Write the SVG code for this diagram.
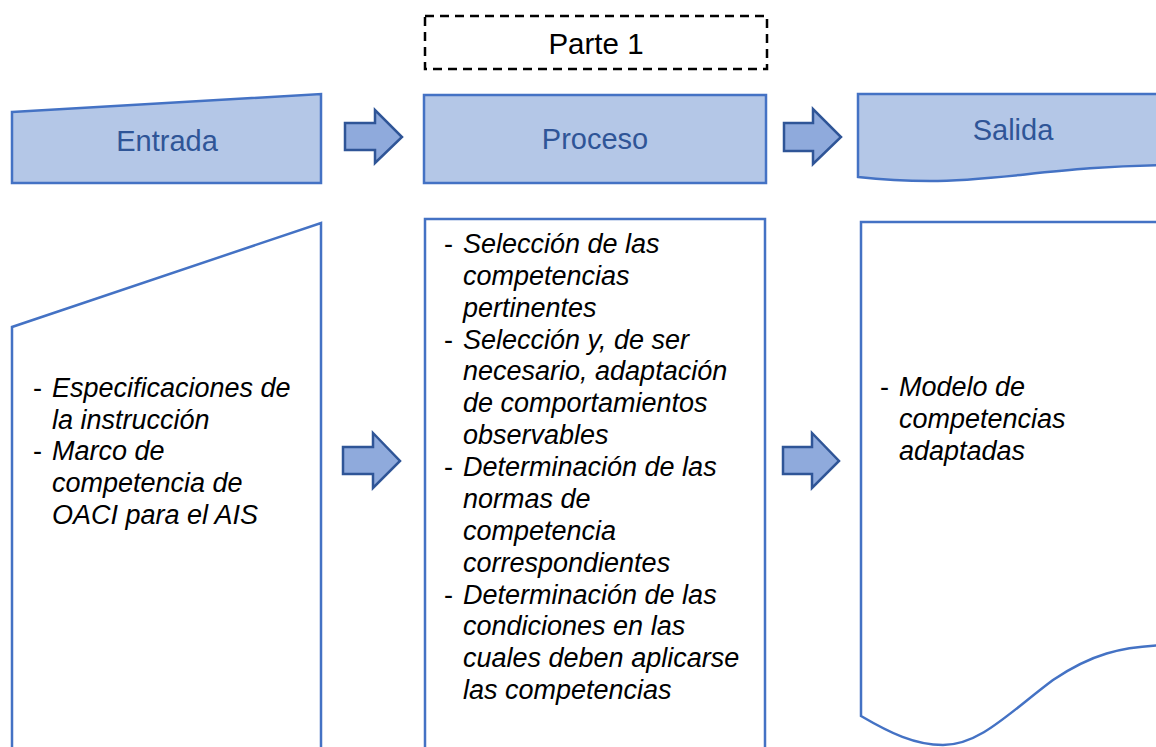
<svg xmlns="http://www.w3.org/2000/svg" width="1156" height="747" viewBox="0 0 1156 747">
<style>
.hdr{fill:#B4C7E7;stroke:#4472C4;stroke-width:2.5}
.body{fill:#FFFFFF;stroke:#4472C4;stroke-width:2.5}
.arr{fill:#8FAADC;stroke:#2F5597;stroke-width:2.5;stroke-linejoin:miter}
.ht{font-family:"Liberation Sans",Arial,sans-serif;font-size:29px;fill:#2F5597;text-anchor:middle}
.bt{font-family:"Liberation Sans",Arial,sans-serif;font-size:27px;fill:#000000;font-style:italic}
.dash{font-family:"Liberation Sans",Arial,sans-serif;font-size:27px;fill:#000000}
</style>
<rect width="1156" height="747" fill="#FFFFFF"/>
<g id="parte1">
<rect x="425" y="16" width="342" height="53" fill="none" stroke="#000000" stroke-width="2.5" stroke-dasharray="9 6"/>
<text x="596" y="54" font-family="Liberation Sans, Arial, sans-serif" font-size="29.5" fill="#000000" text-anchor="middle">Parte 1</text>
</g>
<g id="entrada-hdr">
<polygon class="hdr" points="12,112 321,94 321,183 12,183"/>
<text class="ht" x="167" y="151">Entrada</text>
</g>
<g id="proceso-hdr">
<rect class="hdr" x="424" y="95" width="342" height="88"/>
<text class="ht" x="595" y="149">Proceso</text>
</g>
<g id="salida-hdr">
<path class="hdr" d="M858,177 L858,94 L1170,94 L1170,165 C1060,166 1000,181 930,181 C905,181 885,180 858,177 Z"/>
<text class="ht" x="1013" y="140">Salida</text>
</g>
<g id="entrada-body">
<path class="body" d="M12,760 L12,327 L321,223 L321,760"/>
<text class="dash" x="33" y="397">-</text>
<text class="bt"><tspan x="52" y="397">Especificaciones de</tspan><tspan x="52" y="429">la instrucción</tspan></text>
<text class="dash" x="33" y="460">-</text>
<text class="bt"><tspan x="52" y="460">Marco de</tspan><tspan x="52" y="492">competencia de</tspan><tspan x="52" y="524">OACI para el AIS</tspan></text>
</g>
<g id="proceso-body">
<path class="body" d="M425,760 L425,219 L765,219 L765,760"/>
<text class="dash" x="444" y="253">-</text>
<text class="bt"><tspan x="463" y="253">Selección de las</tspan><tspan x="463" y="285">competencias</tspan><tspan x="463" y="317">pertinentes</tspan></text>
<text class="dash" x="444" y="349">-</text>
<text class="bt"><tspan x="463" y="349">Selección y, de ser</tspan><tspan x="463" y="380">necesario, adaptación</tspan><tspan x="463" y="412">de comportamientos</tspan><tspan x="463" y="444">observables</tspan></text>
<text class="dash" x="444" y="476">-</text>
<text class="bt"><tspan x="463" y="476">Determinación de las</tspan><tspan x="463" y="508">normas de</tspan><tspan x="463" y="540">competencia</tspan><tspan x="463" y="572">correspondientes</tspan></text>
<text class="dash" x="444" y="604">-</text>
<text class="bt"><tspan x="463" y="604">Determinación de las</tspan><tspan x="463" y="635">condiciones en las</tspan><tspan x="463" y="667">cuales deben aplicarse</tspan><tspan x="463" y="699">las competencias</tspan></text>
</g>
<g id="salida-body">
<path class="body" d="M1170,222 L861,222 L861,716 C890,733 915,745 943,745 C980,745 1010,712 1053,680 C1090,655 1120,646 1170,645"/>
<text class="dash" x="880" y="396">-</text>
<text class="bt"><tspan x="899" y="396">Modelo de</tspan><tspan x="899" y="428">competencias</tspan><tspan x="899" y="460">adaptadas</tspan></text>
</g>
<g id="connectors">
<polygon class="arr" points="345,123 375,123 375,110 402,137 375,163 375,150 345,150"/>
<polygon class="arr" points="784,123 813,123 813,109 841,137 813,164 813,151 784,151"/>
<polygon class="arr" points="343,447 373,447 373,433 400,461 373,488 373,474 343,474"/>
<polygon class="arr" points="783,447 812,447 812,433 839,461 812,488 812,474 783,474"/>
</g>
</svg>
